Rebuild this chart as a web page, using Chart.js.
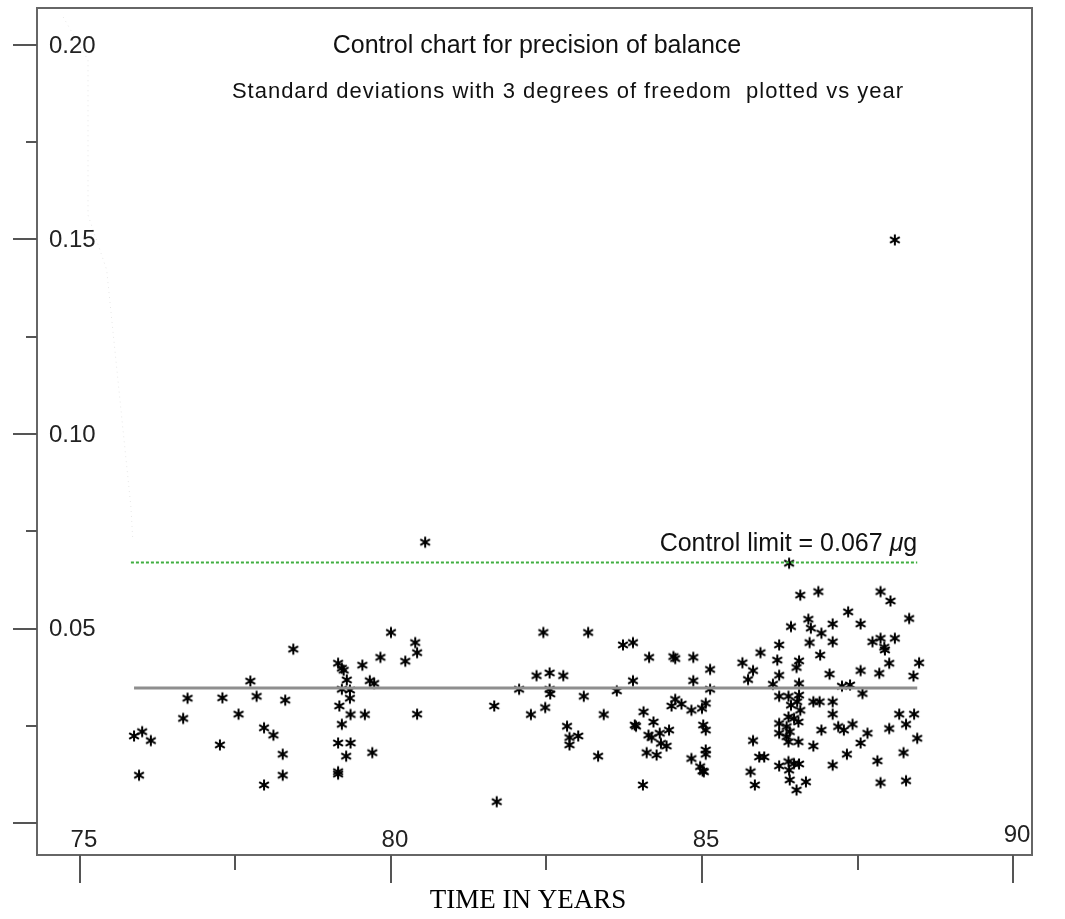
<!DOCTYPE html>
<html>
<head>
<meta charset="utf-8">
<title>Control chart for precision of balance</title>
<script src="https://cdn.jsdelivr.net/npm/chart.js@4.4.1/dist/chart.umd.min.js"></script>
<style>
  html, body { margin: 0; padding: 0; background: #fff; }
</style>
</head>
<body>
<canvas id="chart" width="1065" height="919"></canvas>
<script>
const years = [
  75.87, 76.00, 76.14, 75.95, 76.66, 76.73, 77.29, 77.25, 77.55, 77.74,
  77.84, 77.96, 78.11, 78.30, 78.26, 78.26, 77.96, 78.43,
  79.15, 79.21, 79.24, 79.29, 79.21, 79.34, 79.34, 79.17, 79.35, 79.58,
  79.21, 79.15, 79.35, 79.28, 79.15, 79.15, 79.54, 79.66, 79.73, 79.70,
  79.83, 80.00, 80.23, 80.39, 80.42, 80.42, 80.55, 81.66, 81.70, 82.06,
  82.25, 82.34,
  82.45, 83.17, 82.55, 82.77, 82.55, 82.56, 82.48, 83.10, 83.42, 83.63,
  83.89, 83.73, 83.89, 84.15, 84.54, 84.57, 84.86, 85.13, 84.86, 85.13,
  82.83, 82.87, 83.01, 82.87, 83.33, 84.06, 83.92, 83.94, 84.22, 84.14,
  84.19, 84.32, 84.47, 84.34, 84.43, 84.11, 84.27, 84.05, 84.57, 84.51,
  84.67, 84.83, 85.00, 85.06, 85.02, 85.06, 85.06, 85.06, 84.83, 84.97,
  85.01, 85.03,
  86.58, 86.87, 86.71, 86.75, 86.92, 86.43, 86.24, 86.73, 86.90, 85.94,
  85.65, 85.82, 85.74, 86.21, 86.56, 86.52, 86.24, 86.14, 86.56, 86.24,
  86.39, 86.56, 86.53, 86.43, 86.79, 86.89, 86.58, 86.39, 86.48, 86.55,
  86.24, 86.36, 86.41, 86.24, 86.36, 86.39, 86.55, 85.82, 86.79, 86.92,
  85.92, 86.00, 86.24, 86.39, 86.48, 86.56, 86.40, 86.41, 86.52, 86.67,
  85.78, 85.85, 86.40,
  87.87, 88.03, 88.33, 87.35, 87.10, 87.55, 87.10, 87.74, 87.87, 87.93,
  87.94, 88.10, 88.01, 88.49, 88.40, 87.05, 87.55, 87.85, 87.25, 87.38,
  87.58, 87.10, 87.10, 87.19, 87.28, 87.42, 87.66, 87.55, 87.33, 87.10,
  88.01, 88.17, 88.28, 88.41, 88.46, 88.24, 87.82, 87.87, 88.28, 88.10
];
const sds = [
  0.0224, 0.0235, 0.0212, 0.0123, 0.0269, 0.0321, 0.0322, 0.0201, 0.0280, 0.0365,
  0.0326, 0.0245, 0.0226, 0.0316, 0.0177, 0.0123, 0.0098, 0.0447,
  0.0411, 0.0398, 0.0393, 0.0368, 0.0344, 0.0342, 0.0321, 0.0301, 0.0279, 0.0279,
  0.0254, 0.0206, 0.0206, 0.0172, 0.0132, 0.0126, 0.0406, 0.0366, 0.0359, 0.0181,
  0.0426, 0.0490, 0.0416, 0.0464, 0.0438, 0.0280, 0.0722, 0.0301, 0.0055, 0.0344,
  0.0279, 0.0379,
  0.0490, 0.0490, 0.0386, 0.0379, 0.0344, 0.0332, 0.0297, 0.0326, 0.0279, 0.0340,
  0.0366, 0.0458, 0.0464, 0.0426, 0.0428, 0.0423, 0.0426, 0.0395, 0.0366, 0.0344,
  0.0249, 0.0220, 0.0224, 0.0201, 0.0172, 0.0286, 0.0252, 0.0249, 0.0260, 0.0226,
  0.0220, 0.0231, 0.0239, 0.0205, 0.0198, 0.0181, 0.0175, 0.0098, 0.0318, 0.0301,
  0.0306, 0.0290, 0.0295, 0.0308, 0.0252, 0.0239, 0.0188, 0.0177, 0.0166, 0.0145,
  0.0134, 0.0132,
  0.0586, 0.0595, 0.0524, 0.0501, 0.0488, 0.0505, 0.0458, 0.0464, 0.0432, 0.0438,
  0.0412, 0.0392, 0.0369, 0.0419, 0.0417, 0.0400, 0.0380, 0.0357, 0.0359, 0.0326,
  0.0326, 0.0329, 0.0312, 0.0303, 0.0312, 0.0312, 0.0290, 0.0273, 0.0269, 0.0260,
  0.0256, 0.0248, 0.0235, 0.0231, 0.0222, 0.0209, 0.0209, 0.0212, 0.0198, 0.0239,
  0.0170, 0.0170, 0.0147, 0.0158, 0.0153, 0.0152, 0.0136, 0.0111, 0.0085, 0.0106,
  0.0132, 0.0098, 0.0668,
  0.0595, 0.0571, 0.0526, 0.0543, 0.0512, 0.0512, 0.0466, 0.0466, 0.0475, 0.0452,
  0.0445, 0.0475, 0.0411, 0.0412, 0.0378, 0.0383, 0.0392, 0.0385, 0.0352, 0.0355,
  0.0333, 0.0312, 0.0280, 0.0248, 0.0239, 0.0254, 0.0231, 0.0206, 0.0177, 0.0149,
  0.0243, 0.0280, 0.0254, 0.0280, 0.0218, 0.0181, 0.0160, 0.0104, 0.0109, 0.1499
];

// centre line (mean s) and upper control limit
const meanYears = [75.87, 88.46];
const meanValues = [0.0347, 0.0347];
const limitYears = [75.82, 88.46];
const limitValues = [0.067, 0.067];
const limitLabel = 'Control limit = 0.067 ';

// faint dotted trace on the left of the frame
const traceYears = [74.73, 75.13, 75.13, 75.43, 75.82, 75.85];
const traceValues = [0.2072, 0.1961, 0.1563, 0.1422, 0.0812, 0.0728];

// axes
const xMajor = [75, 80, 85, 90];
const xLabels = ['75', '80', '85', '90'];
const xMinor = [77.5, 82.5, 87.5];
const yMajor = [0, 0.05, 0.10, 0.15, 0.20];
const yLabels = ['', '0.05', '0.10', '0.15', '0.20'];
const yMinor = [0.025, 0.075, 0.125, 0.175];

const titleText = 'Control chart for precision of balance';
const subtitleText = 'Standard deviations with 3 degrees of freedom  plotted vs year';
const xTitle = 'TIME IN YEARS';

const SANS = '"Liberation Sans", Arial, sans-serif';

// six-armed asterisk used as the marker
function makeStar() {
  const c = document.createElement('canvas');
  c.width = 14;
  c.height = 14;
  const g = c.getContext('2d');
  g.strokeStyle = '#000';
  g.lineWidth = 2;
  const r = 5.6;
  [90, 30, 150].forEach(a => {
    const t = a * Math.PI / 180;
    g.beginPath();
    g.moveTo(7 - r * Math.cos(t), 7 - r * Math.sin(t));
    g.lineTo(7 + r * Math.cos(t), 7 + r * Math.sin(t));
    g.stroke();
  });
  return c;
}

const framePlugin = {
  id: 'frame',
  afterDraw(chart) {
    const { ctx, chartArea: a, scales: { x, y } } = chart;
    ctx.save();

    // box
    ctx.strokeStyle = '#666';
    ctx.lineWidth = 2;
    ctx.strokeRect(a.left, a.top, a.right - a.left, a.bottom - a.top);

    // ticks outside the box
    ctx.strokeStyle = '#555';
    ctx.lineWidth = 2;
    ctx.beginPath();
    yMajor.forEach(v => {
      const py = Math.round(y.getPixelForValue(v));
      ctx.moveTo(a.left - 24, py);
      ctx.lineTo(a.left, py);
    });
    yMinor.forEach(v => {
      const py = Math.round(y.getPixelForValue(v));
      ctx.moveTo(a.left - 11, py);
      ctx.lineTo(a.left, py);
    });
    xMajor.forEach(v => {
      const px = Math.round(x.getPixelForValue(v));
      ctx.moveTo(px, a.bottom);
      ctx.lineTo(px, a.bottom + 28);
    });
    xMinor.forEach(v => {
      const px = Math.round(x.getPixelForValue(v));
      ctx.moveTo(px, a.bottom);
      ctx.lineTo(px, a.bottom + 15);
    });
    ctx.stroke();

    // tick labels, drawn inside the box
    ctx.fillStyle = '#222';
    ctx.font = '24px ' + SANS;
    ctx.textBaseline = 'middle';
    ctx.textAlign = 'left';
    yMajor.forEach((v, i) => {
      if (yLabels[i]) ctx.fillText(yLabels[i], a.left + 12, y.getPixelForValue(v) + 1);
    });
    ctx.textAlign = 'center';
    xMajor.forEach((v, i) => {
      const dy = i === xMajor.length - 1 ? -20 : -15;
      ctx.fillText(xLabels[i], x.getPixelForValue(v) + 4, a.bottom + dy);
    });

    // titles
    ctx.fillStyle = '#111';
    ctx.font = '25px ' + SANS;
    ctx.fillText(titleText, 537, 46);
    ctx.font = '22px ' + SANS;
    ctx.letterSpacing = '1px';
    ctx.fillText(subtitleText, 568, 92);
    ctx.letterSpacing = '0px';

    // control limit label, right aligned to the end of the line
    const fs = 25;
    const lx = x.getPixelForValue(limitYears[1]);
    const ly = y.getPixelForValue(limitValues[1]) - 18;
    ctx.textAlign = 'left';
    ctx.font = 'italic ' + fs + 'px ' + SANS;
    const muW = ctx.measureText('\u03bc').width;
    ctx.font = fs + 'px ' + SANS;
    const gW = ctx.measureText('g').width;
    const baseW = ctx.measureText(limitLabel).width;
    const sx = lx - baseW - muW - gW;
    ctx.fillText(limitLabel, sx, ly);
    ctx.font = 'italic ' + fs + 'px ' + SANS;
    ctx.fillText('\u03bc', sx + baseW, ly);
    ctx.font = fs + 'px ' + SANS;
    ctx.fillText('g', sx + baseW + muW, ly);

    // axis title below the box
    ctx.textAlign = 'center';
    ctx.fillStyle = '#000';
    ctx.font = '27px "Liberation Serif", "Times New Roman", serif';
    ctx.fillText(xTitle, 528, 901);

    ctx.restore();
  }
};

const star = makeStar();

new Chart(document.getElementById('chart'), {
  type: 'scatter',
  data: {
    datasets: [
      {
        type: 'line',
        data: traceYears.map((v, i) => ({ x: v, y: traceValues[i] })),
        borderColor: '#e6e6e6',
        borderWidth: 1,
        borderDash: [1, 4],
        pointRadius: 0,
        tension: 0
      },
      {
        type: 'line',
        data: meanYears.map((v, i) => ({ x: v, y: meanValues[i] })),
        borderColor: '#8e8e8e',
        borderWidth: 3,
        pointRadius: 0
      },
      {
        type: 'line',
        data: limitYears.map((v, i) => ({ x: v, y: limitValues[i] })),
        borderColor: '#3fae3f',
        borderWidth: 2,
        borderDash: [3, 2],
        pointRadius: 0
      },
      {
        data: years.map((v, i) => ({ x: v, y: sds[i] })),
        pointStyle: star,
        pointRadius: 5,
        showLine: false
      }
    ]
  },
  options: {
    responsive: false,
    animation: false,
    layout: { padding: { left: 37, top: 8, right: 33, bottom: 64 } },
    plugins: {
      legend: { display: false },
      tooltip: { enabled: false }
    },
    scales: {
      x: { type: 'linear', display: false, min: 74.31, max: 90.305 },
      y: { type: 'linear', display: false, min: -0.0082, max: 0.2095 }
    }
  },
  plugins: [framePlugin]
});
</script>
</body>
</html>
